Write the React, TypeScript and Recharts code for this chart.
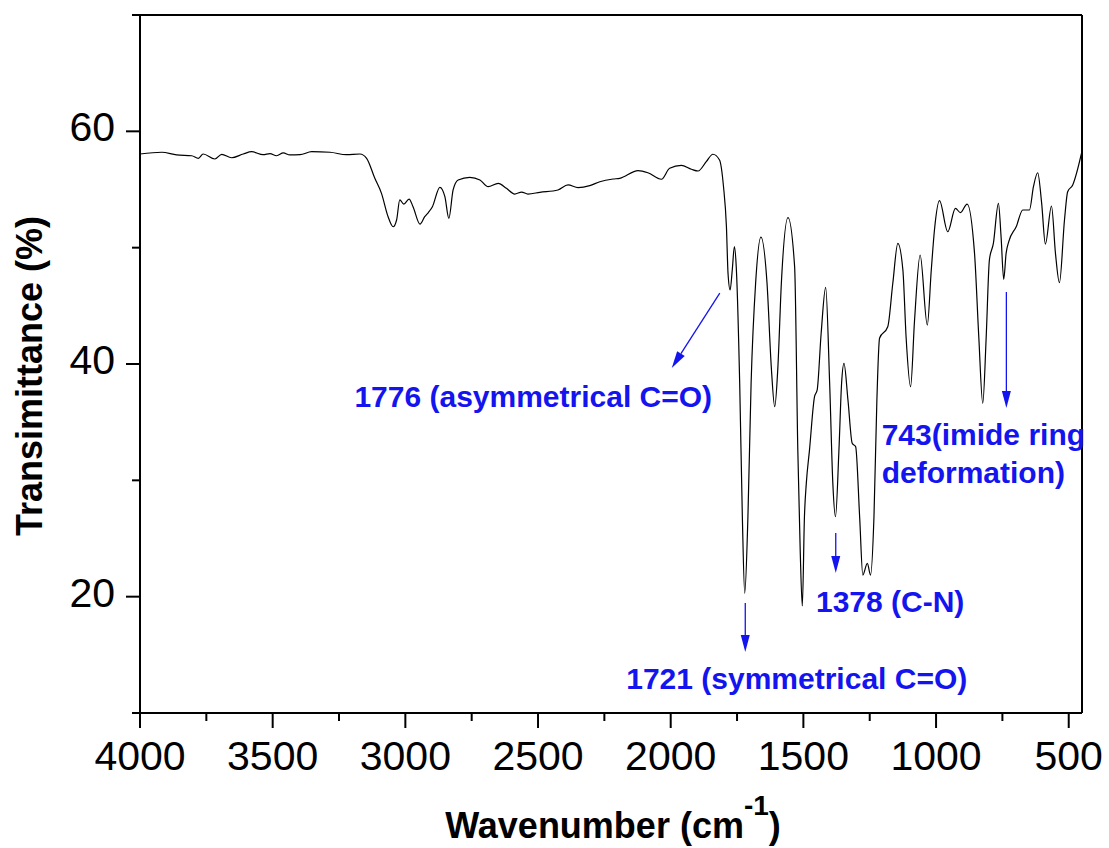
import React from 'react';
import { LineChart, Line, XAxis, YAxis, ReferenceLine, ReferenceDot, Label } from 'recharts';

// FTIR spectrum
const wavenumbers = [
  4000, 3918, 3862, 3805, 3780, 3762, 3718, 3692, 3655, 3611, 3579, 3536, 3510, 3485, 3460, 3435,
  3397, 3353, 3284, 3222, 3171, 3146, 3115, 3090, 3065, 3046, 3033, 3021, 3006, 2986, 2971, 2945,
  2927, 2914, 2898, 2870, 2851, 2836, 2820, 2801, 2757, 2719, 2688, 2650, 2619, 2588, 2562, 2538,
  2493, 2425, 2387, 2349, 2305, 2267, 2217, 2192, 2123, 2086, 2035, 2004, 1960, 1922, 1897, 1866,
  1841, 1816, 1801, 1790, 1784, 1776, 1768, 1760, 1753, 1740, 1730, 1721, 1709, 1697, 1680, 1660,
  1637, 1621, 1608, 1596, 1583, 1558, 1533, 1521, 1512, 1504, 1496, 1489, 1477, 1458, 1448, 1433,
  1416, 1401, 1389, 1379, 1366, 1356, 1347, 1332, 1316, 1303, 1288, 1276, 1259, 1247, 1234, 1223,
  1213, 1182, 1163, 1144, 1125, 1113, 1096, 1081, 1060, 1033, 1018, 1006, 987, 956, 927, 908,
  883, 855, 839, 824, 811, 799, 784, 765, 755, 745, 736, 726, 698, 673, 648, 633,
  617, 602, 588, 565, 550, 535, 516, 504, 485, 452,
];

const transmittance = [
  58.05, 58.2, 57.97, 57.9, 57.68, 58.05, 57.62, 58.02, 57.73, 58.05, 58.25, 57.99, 58.08, 57.9, 58.14, 57.97,
  57.99, 58.25, 58.2, 57.99, 58.05, 57.68, 55.96, 54.67, 52.66, 51.8, 52.38, 54.1, 53.75, 54.18, 53.52, 52.03,
  52.66, 53.0, 53.52, 55.19, 54.38, 52.52, 54.96, 55.82, 56.05, 55.82, 55.24, 55.53, 55.1, 54.61, 54.78, 54.61,
  54.76, 54.96, 55.39, 55.16, 55.33, 55.67, 55.9, 55.96, 56.62, 56.44, 55.88, 56.82, 57.08, 56.74, 56.59, 57.39,
  58.03, 57.54, 55.24, 51.8, 47.8, 46.36, 48.08, 50.1, 48.36, 38.34, 26.87, 20.29, 26.87, 38.34, 46.94, 50.9,
  46.94, 39.77, 36.33, 39.77, 46.94, 52.58, 48.36, 32.6, 24.0, 19.2, 26.87, 29.74, 32.6, 37.19, 37.77, 42.64,
  46.59, 38.34, 29.74, 26.87, 32.6, 38.34, 40.06, 36.9, 33.18, 32.89, 26.87, 21.86, 22.87, 21.86, 26.87, 36.9,
  42.21, 43.2, 46.94, 50.37, 48.08, 42.35, 38.05, 43.78, 49.37, 43.35, 48.08, 51.52, 54.04, 51.37, 53.38, 53.01,
  53.75, 49.51, 42.35, 36.62, 42.35, 48.94, 50.37, 53.81, 50.95, 47.28, 49.51, 50.52, 51.8, 53.24, 53.24, 55.24,
  56.44, 53.81, 50.31, 53.58, 49.51, 46.99, 52.38, 54.81, 55.39, 58.1,
];

const majorXTicks = [4000, 3500, 3000, 2500, 2000, 1500, 1000, 500];
const minorXTicks = [3750, 3250, 2750, 2250, 1750, 1250, 750];
const majorYTicks = [20, 40, 60];
const minorYTicks = [10, 30, 50, 70];

// annotation arrows: [fromWn, fromT, toWn, toT]
const arrows = [
  [1815, 46.1, 1996, 39.66],
  [1719, 19.45, 1719, 15.24],
  [1378, 25.47, 1378, 22.03],
  [735, 46.19, 735, 36.22],
];

// annotation texts
const noteTexts = ['1776 (asymmetrical C=O)', '1721 (symmetrical C=O)', '1378 (C-N)', '743(imide ring', 'deformation)'];
const noteWn = [2518, 1525, 1173, 1205, 1205];
const noteT = [36.3, 12.06, 18.68, 33.04, 29.77];
const noteAnchor = ['middle', 'middle', 'middle', 'start', 'start'];

const spectrum = wavenumbers.map((wn, i) => ({ wn, t: transmittance[i] }));
const allXTicks = [...majorXTicks, ...minorXTicks].sort((a, b) => b - a);
const allYTicks = [...majorYTicks, ...minorYTicks].sort((a, b) => a - b);

const FONT = '"Liberation Sans", Arial, sans-serif';
const BLUE = '#1414ee';

const XTick = (props: any) => {
  const { x, y, payload } = props;
  const major = majorXTicks.includes(payload.value);
  return (
    <g>
      <line x1={x} y1={y} x2={x} y2={y + (major ? 15 : 8)} stroke="#000" strokeWidth={2} />
      {major && (
        <text x={x} y={y + 57} textAnchor="middle" fontSize={41} fontFamily={FONT} fill="#000">
          {payload.value}
        </text>
      )}
    </g>
  );
};

const YTick = (props: any) => {
  const { x, y, payload } = props;
  const major = majorYTicks.includes(payload.value);
  return (
    <g>
      <line x1={x - (major ? 14 : 8)} y1={y} x2={x} y2={y} stroke="#000" strokeWidth={2} />
      {major && (
        <text x={x - 25} y={y + 10} textAnchor="end" fontSize={41} fontFamily={FONT} fill="#000">
          {payload.value}
        </text>
      )}
    </g>
  );
};

const Arrow = (props: any) => {
  const { x1, y1, x2, y2 } = props;
  const dx = x2 - x1;
  const dy = y2 - y1;
  const len = Math.sqrt(dx * dx + dy * dy) || 1;
  const ux = dx / len;
  const uy = dy / len;
  const bx = x2 - ux * 17;
  const by = y2 - uy * 17;
  const px = -uy * 4.5;
  const py = ux * 4.5;
  return (
    <g>
      <line x1={x1} y1={y1} x2={bx} y2={by} stroke={BLUE} strokeWidth={1.3} />
      <polygon points={`${x2},${y2} ${bx + px},${by + py} ${bx - px},${by - py}`} fill={BLUE} />
    </g>
  );
};

const noteShape = (i: number) => (p: any) => (
  <text
    x={p.cx}
    y={p.cy}
    textAnchor={noteAnchor[i] as any}
    fontSize={30}
    fontWeight="bold"
    fontFamily={FONT}
    fill={BLUE}
  >
    {noteTexts[i]}
  </text>
);

const YTitle = (props: any) => {
  const vb = props.viewBox;
  const cx = vb.x + 42;
  const cy = vb.y + vb.height / 2 + 12;
  return (
    <text
      x={cx}
      y={cy}
      transform={`rotate(-90 ${cx} ${cy})`}
      textAnchor="middle"
      fontSize={36}
      fontWeight="bold"
      fontFamily={FONT}
      fill="#000"
    >
      Transimittance (%)
    </text>
  );
};

const XTitle = (props: any) => {
  const vb = props.viewBox;
  return (
    <text
      x={vb.x + vb.width / 2 + 2}
      y={vb.y + 125}
      textAnchor="middle"
      fontSize={36}
      fontWeight="bold"
      fontFamily={FONT}
      fill="#000"
    >
      Wavenumber (cm
      <tspan dy={-23} fontSize={28}>-1</tspan>
      <tspan dy={23}>)</tspan>
    </text>
  );
};

export default function App() {
  return (
    <div style={{ position: 'absolute', left: 0, top: 0, background: '#fff' }}>
      <LineChart width={1109} height={848} data={spectrum} margin={{ top: 15, right: 27, left: 0, bottom: 0 }}>
        <XAxis
          dataKey="wn"
          type="number"
          domain={[450, 4000]}
          reversed
          allowDataOverflow
          ticks={allXTicks}
          interval={0}
          tick={<XTick />}
          tickLine={false}
          tickSize={0}
          tickMargin={0}
          height={135}
          axisLine={{ stroke: '#000', strokeWidth: 2 }}
          label={<Label content={<XTitle />} />}
        />
        <YAxis
          type="number"
          domain={[10, 70]}
          allowDataOverflow
          ticks={allYTicks}
          interval={0}
          tick={<YTick />}
          tickLine={false}
          tickSize={0}
          tickMargin={0}
          width={140}
          axisLine={{ stroke: '#000', strokeWidth: 2 }}
          label={<Label content={<YTitle />} />}
        />
        <ReferenceLine y={70} stroke="#000" strokeWidth={2} />
        <ReferenceLine x={450} stroke="#000" strokeWidth={2} />
        <Line
          type="monotone"
          dataKey="t"
          stroke="#000"
          strokeWidth={1.2}
          dot={false}
          activeDot={false}
          isAnimationActive={false}
        />
        {arrows.map((a, i) => (
          <ReferenceLine
            key={`arrow-${i}`}
            segment={[{ x: a[0], y: a[1] }, { x: a[2], y: a[3] }]}
            shape={<Arrow />}
          />
        ))}
        {noteTexts.map((_, i) => (
          <ReferenceDot key={`note-${i}`} x={noteWn[i]} y={noteT[i]} r={1} shape={noteShape(i)} />
        ))}
      </LineChart>
    </div>
  );
}
